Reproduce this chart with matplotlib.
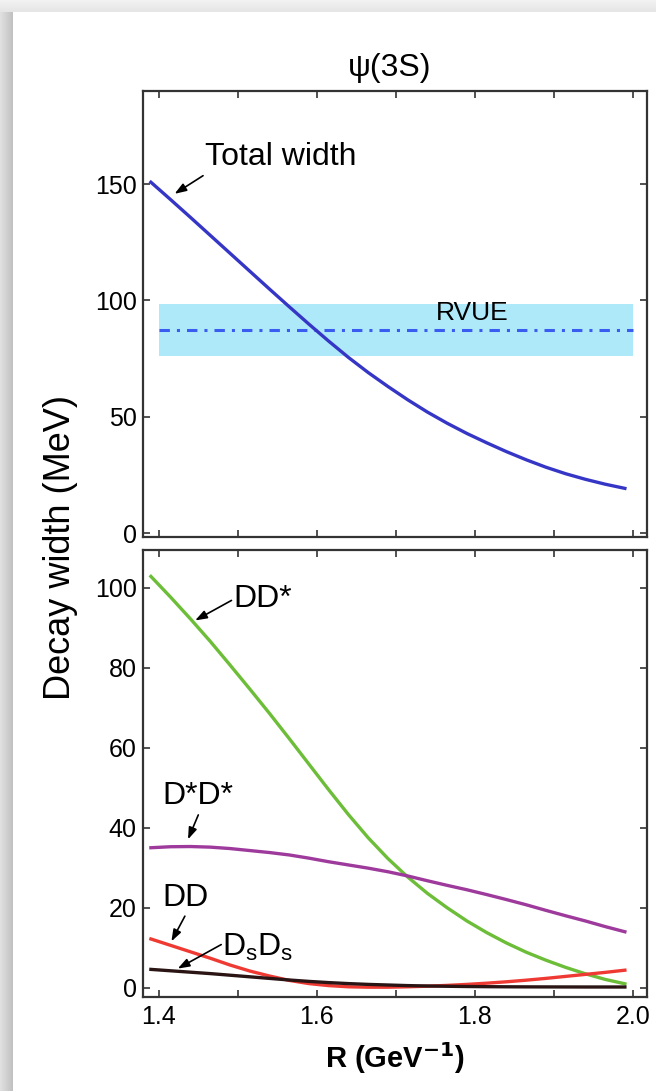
import numpy as np
import matplotlib
matplotlib.use("Agg")
import matplotlib.pyplot as plt

plt.rcParams["font.family"] = ["Liberation Sans", "DejaVu Sans"]

# -----------------------------------------------------------------------------
# data: decay widths of psi(3S) vs R (GeV^-1), in MeV
# -----------------------------------------------------------------------------
R = [1.390, 1.415, 1.440, 1.465, 1.490, 1.515, 1.540, 1.565, 1.590,
     1.615, 1.640, 1.665, 1.690, 1.715, 1.740, 1.765, 1.790, 1.815,
     1.840, 1.865, 1.890, 1.915, 1.940, 1.965, 1.990]

total_width = [150.8, 143.3, 135.7, 128.0, 120.3, 112.6, 104.9, 97.3, 89.8,
               82.5, 75.5, 69.0, 63.0, 57.3, 52.0, 47.2, 42.8, 38.8,
               35.0, 31.5, 28.3, 25.5, 23.1, 21.0, 19.2]

w_DDstar = [102.8, 97.6, 92.2, 86.6, 80.7, 74.7, 68.6, 62.3, 55.9,
            49.5, 43.3, 37.5, 32.3, 27.7, 23.6, 20.0, 16.7, 13.8,
            11.2, 8.9, 6.9, 5.1, 3.5, 2.1, 1.0]

w_DstarDstar = [35.0, 35.25, 35.3, 35.15, 34.8, 34.3, 33.8, 33.2, 32.4,
                31.5, 30.7, 29.9, 29.0, 27.95, 26.75, 25.6, 24.5, 23.3,
                22.05, 20.75, 19.35, 18.0, 16.7, 15.3, 14.0]

w_DD = [12.2, 10.6, 9.0, 7.4, 5.7, 4.2, 2.95, 1.85, 1.05,
        0.55, 0.25, 0.15, 0.15, 0.25, 0.4, 0.6, 0.85, 1.15,
        1.5, 1.9, 2.35, 2.85, 3.35, 3.85, 4.4]

w_DsDs = [4.6, 4.25, 3.9, 3.55, 3.15, 2.75, 2.35, 1.95, 1.6,
          1.3, 1.05, 0.85, 0.7, 0.55, 0.45, 0.38, 0.32, 0.28,
          0.25, 0.23, 0.22, 0.21, 0.2, 0.2, 0.2]

# RVUE estimate: central value and band
rvue_R = [1.40, 2.00]
rvue_c = 87.1
rvue_lo = 76.0
rvue_hi = 98.3

x_ticks = [1.4, 1.5, 1.6, 1.7, 1.8, 1.9, 2.0]
x_ticklabels = ["1.4", "", "1.6", "", "1.8", "", "2.0"]
y_ticks_top = [0, 50, 100, 150]
y_ticks_bot = [0, 20, 40, 60, 80, 100]

# colours
C_TOTAL = "#3636c6"
C_RVUE = "#3a5cf0"
C_BAND = "#aee9fa"
C_DDS = "#6cbd38"
C_DSDS = "#9d3a9c"
C_DD = "#ef3a33"
C_DSS = "#2a1414"
C_AX = "#333333"

W, H = 656, 1091
fig = plt.figure(figsize=(W / 100, H / 100), dpi=100)

# card shadow at the top and left edges
bg = fig.add_axes([0, 0, 1, 1], zorder=-10)
top_grad = np.linspace(0.95, 0.90, 12)[:, None] * np.ones((1, 2))
bg.imshow(np.dstack([top_grad] * 3), extent=(0, W, 12, 0), aspect="auto",
          interpolation="bilinear")
left_grad = np.ones((2, 1)) * np.linspace(0.88, 0.76, 13)[None, :]
bg.imshow(np.dstack([left_grad] * 3), extent=(0, 13, H, 12), aspect="auto",
          interpolation="bilinear")
bg.set_xlim(0, W)
bg.set_ylim(H, 0)
bg.axis("off")

# axes in pixel layout
left, right = 143 / W, 647 / W
ax1 = fig.add_axes([left, 1 - 537 / H, right - left, (537 - 91) / H])
ax2 = fig.add_axes([left, 1 - 997 / H, right - left, (997 - 550) / H])

for ax in (ax1, ax2):
    ax.set_xlim(1.38, 2.018)
    ax.set_xticks(x_ticks)
    ax.set_xticklabels(x_ticklabels)
    ax.tick_params(direction="in", top=True, right=True, length=5, width=1.2,
                   color=C_AX, labelsize=18, labelcolor="black")
    ax.tick_params(axis="y", pad=4.5)
    ax.tick_params(axis="x", pad=6)
    for s in ax.spines.values():
        s.set_color(C_AX)
        s.set_linewidth(1.6)

ax1.tick_params(labelbottom=False)

# --- top panel: total width + RVUE band ---
ax1.set_ylim(-1.7, 190)
ax1.set_yticks(y_ticks_top)
ax1.fill_between(rvue_R, [rvue_lo] * 2, [rvue_hi] * 2, color=C_BAND, lw=0, zorder=1)
ax1.plot(rvue_R, [rvue_c] * 2, color=C_RVUE, lw=2.2, ls=(0, (3.4, 2.3, 1, 2.3)), zorder=2)
ax1.plot(R, total_width, color=C_TOTAL, lw=2.4, zorder=3)
ax1.text(1.797, 94.6, "RVUE", fontsize=19, ha="center", va="center")

arrow = dict(arrowstyle="-|>,head_length=0.7,head_width=0.25", color="black",
             lw=1.2, shrinkA=0, shrinkB=0)
ax1.annotate("", xy=(1.420, 145.8), xytext=(1.456, 153.6), arrowprops=arrow)
ax1.text(1.458, 161.6, "Total width", fontsize=23, ha="left", va="center")

# --- bottom panel: partial widths ---
ax2.set_ylim(-2.3, 109.4)
ax2.set_yticks(y_ticks_bot)
ax2.plot(R, w_DDstar, color=C_DDS, lw=2.4)
ax2.plot(R, w_DstarDstar, color=C_DSDS, lw=2.4)
ax2.plot(R, w_DD, color=C_DD, lw=2.4)
ax2.plot(R, w_DsDs, color=C_DSS, lw=2.4)

ax2.annotate("", xy=(1.446, 91.8), xytext=(1.492, 96.8), arrowprops=arrow)
ax2.text(1.494, 97.1, "DD*", fontsize=23, ha="left", va="center")

ax2.annotate("", xy=(1.437, 37.1), xytext=(1.450, 43.2), arrowprops=arrow)
ax2.text(1.405, 47.9, "D*D*", fontsize=23, ha="left", va="center")

ax2.annotate("", xy=(1.416, 11.6), xytext=(1.433, 17.9), arrowprops=arrow)
ax2.text(1.405, 22.4, "DD", fontsize=23, ha="left", va="center")

ax2.annotate("", xy=(1.424, 4.8), xytext=(1.479, 10.8), arrowprops=arrow)
ax2.text(1.480, 10.0, r"D$_\mathregular{s}$D$_\mathregular{s}$", fontsize=23,
         ha="left", va="center")

ax2.set_xlabel(r"R (GeV$^{\mathbf{-1}}$)", fontsize=21, fontweight="bold", labelpad=8)

fig.text(390 / W, 1 - 68 / H, "\u03c8(3S)", fontsize=23, ha="center", va="center")
fig.text(61 / W, 1 - 548 / H, "Decay width (MeV)", fontsize=26, rotation=90,
         ha="center", va="center")

fig.savefig("out.png", dpi=100)
